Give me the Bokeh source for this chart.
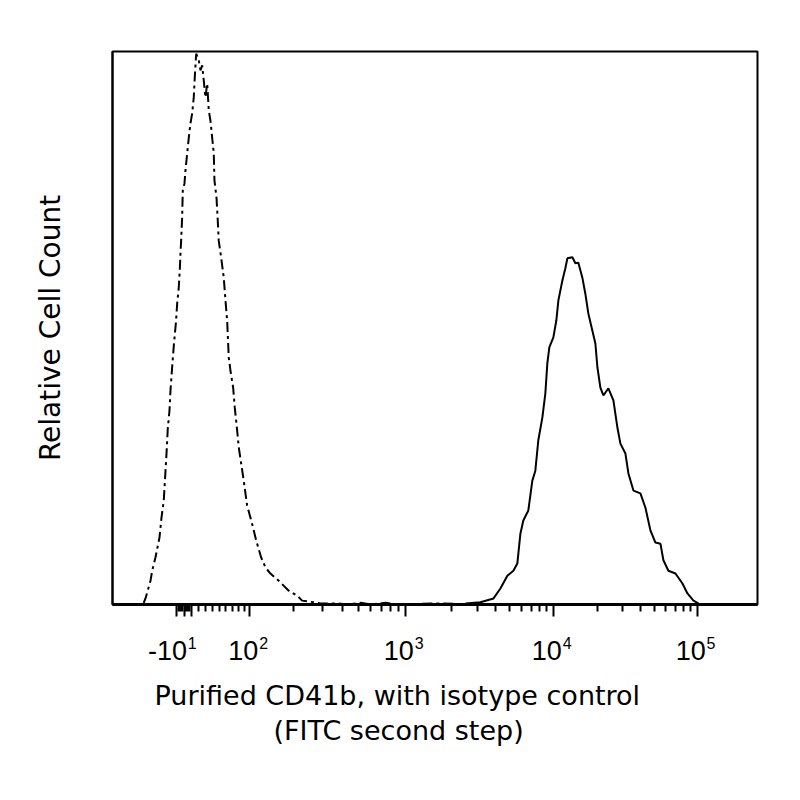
import numpy as np
from bokeh.plotting import figure
from bokeh.models import Range1d, FixedTicker, LinearAxis, Title
from bokeh.embed import file_html
from bokeh.resources import INLINE

# ---- data (fluorescence intensity, relative cell count) ----
iso_x = [-58, -55.2, -47.7, -45.2, -40.4, -34.6, -31.7, -28.5, -26.0, -24.6, -22.8, -20.4,
         -19.0, -16.7, -14.0, -11.4, -9.7, -7.5, -6.1, -5.1, -4.2, -2.8, -1.9, 0.4, 1.8,
         4.2, 6.4, 8.7, 11.1, 13.3, 14.7, 16.7, 20.3, 22.7, 25.1, 27.3, 29.7, 32.2, 34.5,
         36.9, 39.4, 41.7, 42.7, 45.7, 47.6, 49.0, 52.7, 56.6, 59.2, 61.8, 64.3, 67.0,
         71.3, 73.9, 77.8, 80.5, 84.5, 88.9, 91.9, 94.9, 100.9, 107.0, 111.5, 121.4,
         130.2, 140.9, 160.1, 185.8, 209.9, 225.5, 265.9, 292.3, 370.2, 426.8, 516, 600,
         742, 900, 1700, 2900]
iso_y = [0.3, 1.1, 4.3, 6.1, 8.5, 12.1, 15.7, 18.8, 24.2, 27.3, 31.8, 35.1,
         38.7, 42.9, 47.4, 51.0, 54.4, 57.3, 60.4, 63.5, 65.8, 70.0, 74.9, 76.1, 78.5,
         81.6, 84.4, 87.0, 88.8, 91.7, 95.3, 99.6, 98.4, 96.6, 97.5, 94.8, 91.7, 94.2, 89.3,
         87.5, 84.4, 81.6, 76.7, 73.6, 69.4, 65.8, 62.7, 59.1, 55.0, 51.4, 44.7, 42.3,
         39.2, 35.6, 31.5, 28.4, 25.5, 22.4, 20.1, 17.9, 15.7, 13.4, 11.6, 8.5,
         6.7, 5.6, 4.3, 2.5, 1.6, 0.7, 0.4, 0.2, 0.2, 0.0, 0.3, 0.0,
         0.3, 0.0, 0.2, 0.0]

cd41b_x = [2500, 3150, 3870, 4310, 4810, 5290, 5630, 5910, 6190, 6700, 7140, 7490, 7850,
           8370, 8780, 9060, 9350, 9970, 10460, 10800, 11510, 12070, 12460, 13500, 14160,
           14850, 15830, 16600, 17420, 18580, 19490, 20130, 21110, 22150, 24000, 26000,
           27720, 29080, 31510, 33060, 35820, 40070, 43420, 47030, 50960, 55220, 57940,
           62770, 70270, 78630, 85180, 93780, 101600]
cd41b_y = [0.2, 0.4, 1.1, 2.9, 5.2, 6.1, 7.4, 12.8, 15.2, 17.0, 22.4, 24.2, 29.7,
           33.8, 38.2, 43.6, 46.5, 48.3, 51.4, 55.0, 58.6, 60.8, 62.6, 62.8, 61.7,
           61.8, 59.1, 56.2, 52.6, 49.5, 47.2, 42.9, 39.2, 37.8, 39.1, 36.9,
           32.0, 29.1, 27.3, 23.7, 20.6, 20.1, 17.5, 13.4, 11.2, 11.0, 8.0,
           6.1, 5.6, 3.8, 2.0, 0.7, 0.2]

major_tick_values = [-10, 0, 10, 100, 1000, 10000, 100000]
major_tick_bases = ["-10", "", "", "10", "10", "10", "10"]
major_tick_exps = ["1", "", "", "2", "3", "4", "5"]
minor_tick_values = [-8, -6, -4, -2, 2, 4, 6, 8] + [k * 10 ** e for e in (1, 2, 3, 4) for k in range(2, 10)]

x_title_lines = ["Purified CD41b, with isotype control", "(FITC second step)"]
y_title = "Relative Cell Count"

# ---- logicle (biexponential) display transform ----
T_TOP, W_LIN, M_DEC = 262144.0, 0.5, 4.5
w = W_LIN * np.log(10)
m = M_DEC * np.log(10)
lo, hi = 1.0001, 100.0
for _ in range(200):
    mid = 0.5 * (lo + hi)
    if 2 * mid * np.log(mid) / (mid + 1) > w:
        hi = mid
    else:
        lo = mid
pp = 0.5 * (lo + hi)


def _pos(z):
    return T_TOP * np.exp(-(m - w)) * (np.exp(z - w) - pp ** 2 * np.exp(-(z - w) / pp) + pp ** 2 - 1)


grid = np.linspace(0, m, 400001)
svals = np.where(grid >= w, _pos(grid), -_pos(2 * w - grid))


def logicle(v):
    return np.interp(np.asarray(v, dtype=float), svals, grid) / m


p = figure(width=780, height=780, output_backend="svg", toolbar_location=None,
           x_range=Range1d(0, 1), y_range=Range1d(0, 100),
           min_border_left=112, min_border_right=23, min_border_top=51, min_border_bottom=176)
p.background_fill_color = "white"
p.border_fill_color = "white"
p.outline_line_color = "black"
p.outline_line_width = 2
p.xgrid.visible = False
p.ygrid.visible = False

p.line(logicle(iso_x), iso_y, line_color="black", line_width=2, line_dash="10 4 3 4")
p.line(logicle(cd41b_x), cd41b_y, line_color="black", line_width=2)

major_pos = [float(t) for t in logicle(major_tick_values)]
minor_pos = [float(t) for t in logicle(minor_tick_values)]

# spacing used to set the exponent to the right of its base (negative label sits a bit wider)
def exp_text(base, e):
    if not e:
        return ""
    lead = "\u2003\u2002\u2009" + ("\u2009" if base.startswith("-") else "")
    return lead + e


def base_text(base):
    return base + ("\u2002\u2009" if base.startswith("-") else "\u2002")


# axis 1: axis line, tick marks and the raised exponents
xa = p.xaxis[0]
xa.ticker = FixedTicker(ticks=major_pos, minor_ticks=minor_pos)
xa.major_label_overrides = {t: exp_text(b, e) for t, b, e in zip(major_pos, major_tick_bases, major_tick_exps)}
xa.axis_line_color = "black"
xa.axis_line_width = 3
xa.major_tick_line_width = 2
xa.major_tick_in = 0
xa.major_tick_out = 12
xa.minor_tick_line_width = 2
xa.minor_tick_in = 0
xa.minor_tick_out = 7
xa.major_label_standoff = 18
xa.major_label_text_font = "Liberation Sans"
xa.major_label_text_font_size = "16px"
xa.major_label_text_color = "black"

# axis 2: the bases "10", moved up next to their exponents
base_pos = [t for t, b in zip(major_pos, major_tick_bases) if b]
xb = LinearAxis(ticker=FixedTicker(ticks=base_pos, minor_ticks=[]))
xb.major_label_overrides = {t: base_text(b) for t, b in zip(major_pos, major_tick_bases) if b}
xb.axis_line_color = None
xb.major_tick_line_color = None
xb.minor_tick_line_color = None
xb.major_tick_in = 0
xb.major_tick_out = 0
xb.minor_tick_in = 0
xb.minor_tick_out = 0
xb.major_label_standoff = -19
xb.major_label_text_font = "Liberation Sans"
xb.major_label_text_font_size = "27px"
xb.major_label_text_color = "black"
p.add_layout(xb, "below")

# x title: two lines, placed a little left of the frame centre, as in the original
for line, off, sb in zip(x_title_lines, (42, 161), (18, -13)):
    p.add_layout(Title(text=line, align="left", offset=off, standoff=sb,
                       text_font="DejaVu Sans", text_font_size="27px",
                       text_font_style="normal", text_color="black"), "below")

ya = p.yaxis[0]
ya.ticker = FixedTicker(ticks=[])
ya.axis_line_color = "black"
ya.axis_line_width = 2
ya.major_tick_line_color = None
ya.minor_tick_line_color = None
ya.axis_label = y_title
ya.axis_label_text_font = "DejaVu Sans"
ya.axis_label_text_font_size = "28px"
ya.axis_label_text_font_style = "normal"
ya.axis_label_text_color = "black"
ya.axis_label_standoff = 46

open("out.html", "w").write(file_html(p, INLINE))
